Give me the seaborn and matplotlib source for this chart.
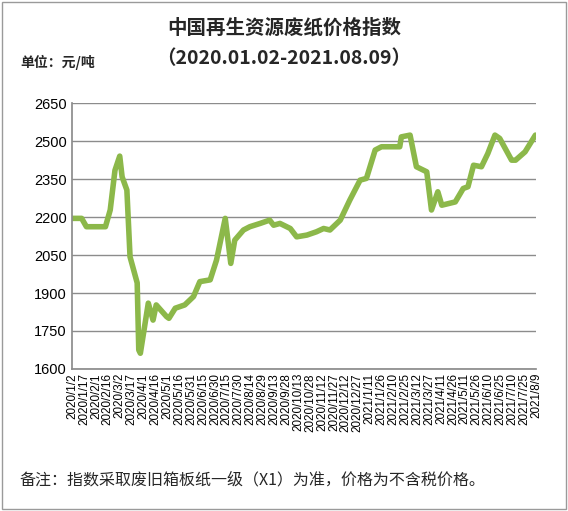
import matplotlib
matplotlib.use("Agg")
import matplotlib.pyplot as plt
import seaborn as sns
import pandas as pd

day_offset = [0,12,18,42,48,54,60,63,69,73,82,84,86,96,102,106,119,122,130,142,153,161,174,182,193,200,205,216,224,237,249,254,262,275,283,296,308,317,325,338,350,363,371,382,390,413,415,426,434,447,453,461,466,483,493,499,506,516,524,533,539,554,559,571,584]
index_value = [2195,2195,2162,2162,2228,2385,2441,2359,2307,2043,1940,1675,1662,1860,1793,1853,1807,1800,1840,1853,1886,1945,1952,2030,2195,2017,2109,2149,2162,2175,2188,2168,2175,2155,2122,2129,2142,2155,2149,2188,2267,2346,2353,2465,2478,2478,2517,2524,2399,2379,2228,2300,2247,2260,2313,2320,2405,2399,2451,2524,2511,2425,2425,2458,2524]
y_ticks = [1600,1750,1900,2050,2200,2350,2500,2650]

sns.set_theme(style="white")
plt.rcParams['font.family'] = ['Noto Sans CJK SC', 'DejaVu Sans']

start = pd.Timestamp("2020-01-02")
df = pd.DataFrame({"date": [start + pd.Timedelta(days=d) for d in day_offset], "value": index_value})

fig = plt.figure(figsize=(5.68, 5.11), dpi=100)
ax = fig.add_axes([0.127, 0.278, 0.817, 0.520])
sns.lineplot(data=df, x="date", y="value", ax=ax, color="#8cb84a", linewidth=4, solid_capstyle="round")

ax.set_ylim(1600, 2650)
ax.set_yticks(y_ticks)
ax.yaxis.grid(True, color="#8c8c8c", linewidth=1)
ax.set_xlim(start, start + pd.Timedelta(days=585))
xt = [start + pd.Timedelta(days=15*i) for i in range(40)]
ax.set_xticks(xt)
ax.set_xticklabels([f"{d.year}/{d.month}/{d.day}" for d in xt], rotation=90, fontsize=8.4, family="Liberation Sans", color="black")
ax.tick_params(axis='y', labelsize=10.5, length=0, pad=4, labelcolor="black")
ax.tick_params(axis='x', length=0, pad=3)
for l in ax.get_yticklabels():
    l.set_family("Liberation Sans")
for s in ["top", "right"]:
    ax.spines[s].set_visible(False)
for s in ["left", "bottom"]:
    ax.spines[s].set_color("#8c8c8c")
ax.set_xlabel("")
ax.set_ylabel("")

fig.text(0.5, 0.935, "中国再生资源废纸价格指数", ha="center", fontsize=14, fontweight="bold")
fig.text(0.5, 0.875, "（2020.01.02-2021.08.09）", ha="center", fontsize=14, fontweight="bold")
fig.text(0.035, 0.868, "单位：元/吨", ha="left", fontsize=10, fontweight="bold")
fig.text(0.035, 0.052, "备注：指数采取废旧箱板纸一级（X1）为准，价格为不含税价格。", ha="left", fontsize=11.5)
fig.patches.append(plt.Rectangle((0.003, 0.003), 0.994, 0.994, transform=fig.transFigure, fill=False, edgecolor="#9a9a9a", linewidth=1))
fig.savefig("out.png", dpi=100)
